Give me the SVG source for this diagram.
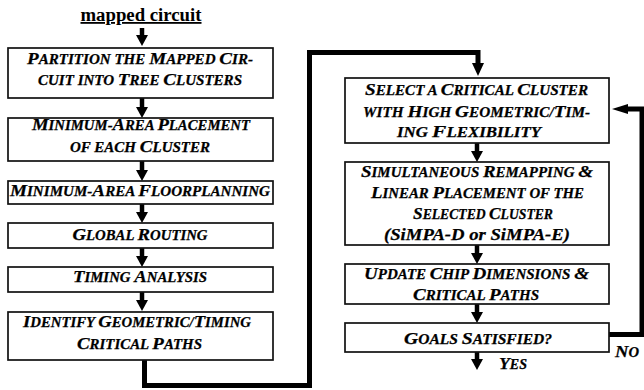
<svg xmlns="http://www.w3.org/2000/svg" width="644" height="390" viewBox="0 0 644 390">
<style>
.box{fill:#fff;stroke:#111;stroke-width:1.7}
.t{font-family:"Liberation Serif","Times New Roman",serif;font-weight:bold;font-style:italic;font-size:17.5px;text-anchor:middle;fill:#000;stroke:#000;stroke-width:0.25}
.c{font-size:13.8px}
.s{fill:none;stroke:#000;stroke-width:4.5}
.loop{fill:none;stroke:#000;stroke-width:5;stroke-linejoin:miter}
</style>
<defs>
<marker id="ah" markerUnits="userSpaceOnUse" markerWidth="12" markerHeight="12" refX="0" refY="6" orient="auto"><path d="M0,0 L11,6 L0,12 z" fill="#000"/></marker>
<marker id="ahb" markerUnits="userSpaceOnUse" markerWidth="14" markerHeight="12" refX="0" refY="6" orient="auto"><path d="M0,0 L13,6 L0,12 z" fill="#000"/></marker>
<marker id="ahf" markerUnits="userSpaceOnUse" markerWidth="18" markerHeight="10" refX="0" refY="5" orient="auto"><path d="M0,0 L16,5 L0,10 z" fill="#000"/></marker>
</defs>
<text x="141" y="21" textLength="121" lengthAdjust="spacingAndGlyphs" style="font-family:'Liberation Serif','Times New Roman',serif;font-weight:bold;font-size:18px;text-anchor:middle;text-decoration:underline">mapped circuit</text>
<g id="connectors">
<path class="s" d="M142,28 V35" marker-end="url(#ah)"/>
<path class="s" d="M142,98 V107" marker-end="url(#ah)"/>
<path class="s" d="M142,161 V170" marker-end="url(#ah)"/>
<path class="s" d="M142,204 V212" marker-end="url(#ah)"/>
<path class="s" d="M142,248 V256" marker-end="url(#ah)"/>
<path class="s" d="M142,292 V300" marker-end="url(#ah)"/>
<path class="loop" d="M144.5,360 V385.5 H309.5 V52.5 H478 V63" marker-end="url(#ahb)"/>
<path class="s" d="M477,143 V151" marker-end="url(#ah)"/>
<path class="s" d="M477,245 V253" marker-end="url(#ah)"/>
<path class="s" d="M477,304 V312" marker-end="url(#ah)"/>
<path class="s" d="M477,352 V359" marker-end="url(#ah)"/>
<path class="loop" d="M609,334.5 H642 V109 H628" marker-end="url(#ahf)"/>
</g>
<g id="n1"><rect class="box" x="8" y="48" width="265" height="50"/>
<text class="t" x="140" y="64" textLength="226" lengthAdjust="spacingAndGlyphs">P<tspan class="c">ARTITION THE </tspan>M<tspan class="c">APPED </tspan>C<tspan class="c">IR-</tspan></text>
<text class="t" x="140" y="85" textLength="204" lengthAdjust="spacingAndGlyphs"><tspan class="c">CUIT INTO </tspan>T<tspan class="c">REE </tspan>C<tspan class="c">LUSTERS</tspan></text></g>
<g id="n2"><rect class="box" x="8" y="118" width="265" height="43"/>
<text class="t" x="141" y="130" textLength="218" lengthAdjust="spacingAndGlyphs">M<tspan class="c">INIMUM-</tspan>A<tspan class="c">REA </tspan>P<tspan class="c">LACEMENT</tspan></text>
<text class="t" x="140" y="152" textLength="140" lengthAdjust="spacingAndGlyphs"><tspan class="c">OF EACH </tspan>C<tspan class="c">LUSTER</tspan></text></g>
<g id="n3"><rect class="box" x="8" y="181" width="265" height="23"/>
<text class="t" x="140" y="196" textLength="260" lengthAdjust="spacingAndGlyphs">M<tspan class="c">INIMUM-</tspan>A<tspan class="c">REA </tspan>F<tspan class="c">LOORPLANNING</tspan></text></g>
<g id="n4"><rect class="box" x="8" y="223" width="265" height="25"/>
<text class="t" x="140" y="239.5" textLength="135" lengthAdjust="spacingAndGlyphs">G<tspan class="c">LOBAL </tspan>R<tspan class="c">OUTING</tspan></text></g>
<g id="n5"><rect class="box" x="8" y="267" width="265" height="25"/>
<text class="t" x="140" y="281.5" textLength="134" lengthAdjust="spacingAndGlyphs">T<tspan class="c">IMING </tspan>A<tspan class="c">NALYSIS</tspan></text></g>
<g id="n6"><rect class="box" x="8" y="312" width="265" height="48"/>
<text class="t" x="137" y="327" textLength="228" lengthAdjust="spacingAndGlyphs">I<tspan class="c">DENTIFY </tspan>G<tspan class="c">EOMETRIC/</tspan>T<tspan class="c">IMING</tspan></text>
<text class="t" x="139.5" y="348.5" textLength="125" lengthAdjust="spacingAndGlyphs">C<tspan class="c">RITICAL </tspan>P<tspan class="c">ATHS</tspan></text></g>
<g id="r1"><rect class="box" x="345" y="78" width="264" height="65"/>
<text class="t" x="476.5" y="95" textLength="223" lengthAdjust="spacingAndGlyphs">S<tspan class="c">ELECT A </tspan>C<tspan class="c">RITICAL </tspan>C<tspan class="c">LUSTER</tspan></text>
<text class="t" x="476.5" y="116.5" textLength="227" lengthAdjust="spacingAndGlyphs"><tspan class="c">WITH </tspan>H<tspan class="c">IGH </tspan>G<tspan class="c">EOMETRIC/</tspan>T<tspan class="c">IM-</tspan></text>
<text class="t" x="469" y="136.5" textLength="144" lengthAdjust="spacingAndGlyphs"><tspan class="c">ING </tspan>F<tspan class="c">LEXIBILITY</tspan></text></g>
<g id="r2"><rect class="box" x="345" y="162" width="264" height="83"/>
<text class="t" x="477" y="176.5" textLength="232" lengthAdjust="spacingAndGlyphs">S<tspan class="c">IMULTANEOUS </tspan>R<tspan class="c">EMAPPING </tspan>&amp;</text>
<text class="t" x="477.5" y="197.5" textLength="213" lengthAdjust="spacingAndGlyphs">L<tspan class="c">INEAR </tspan>P<tspan class="c">LACEMENT OF THE</tspan></text>
<text class="t" x="483" y="218.5" textLength="140" lengthAdjust="spacingAndGlyphs">S<tspan class="c">ELECTED </tspan>C<tspan class="c">LUSTER</tspan></text>
<text class="t" x="477" y="240" textLength="186" lengthAdjust="spacingAndGlyphs">(SiMPA-D or SiMPA-E)</text></g>
<g id="r3"><rect class="box" x="345" y="264" width="264" height="40"/>
<text class="t" x="476.5" y="278.5" textLength="225" lengthAdjust="spacingAndGlyphs">U<tspan class="c">PDATE </tspan>C<tspan class="c">HIP </tspan>D<tspan class="c">IMENSIONS </tspan>&amp;</text>
<text class="t" x="476" y="299.5" textLength="126" lengthAdjust="spacingAndGlyphs">C<tspan class="c">RITICAL </tspan>P<tspan class="c">ATHS</tspan></text></g>
<g id="r4"><rect class="box" x="345" y="323" width="264" height="29"/>
<text class="t" x="478" y="343.5" textLength="148" lengthAdjust="spacingAndGlyphs">G<tspan class="c">OALS </tspan>S<tspan class="c">ATISFIED?</tspan></text></g>
<text class="t" x="499" y="369" textLength="28" lengthAdjust="spacingAndGlyphs" style="text-anchor:start">Y<tspan class="c">ES</tspan></text>
<text class="t" x="615" y="357" textLength="24" lengthAdjust="spacingAndGlyphs" style="text-anchor:start">N<tspan class="c">O</tspan></text>
</svg>
